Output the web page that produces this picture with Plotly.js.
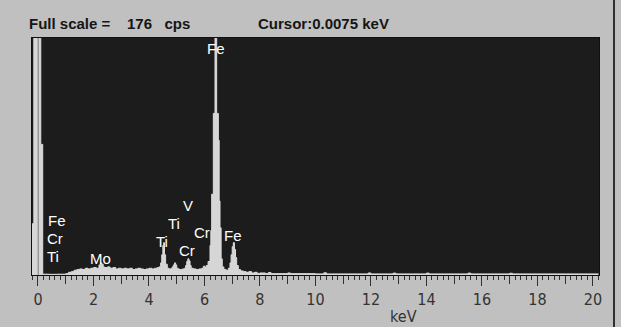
<!DOCTYPE html>
<html>
<head>
<meta charset="utf-8">
<script src="https://cdn.plot.ly/plotly-3.0.1.min.js"></script>
<style>html,body{margin:0;padding:0;background:#c0c0c0;}#chart{width:621px;height:327px;}</style>
</head>
<body>
<div id="chart"></div>
<script>
// Spectrum (step histogram): energy in keV, counts in cps
const energyKeV = [
  -0.22, -0.15, 0.10, 0.17, 0.4, 0.7, 1.0, 1.1, 1.2, 1.3, 1.4, 1.5, 1.6, 1.7, 1.8, 1.9,
  2.0, 2.1, 2.2, 2.25, 2.3, 2.35, 2.4, 2.5, 2.6, 2.7, 2.8, 2.9, 3.0, 3.1, 3.2, 3.3,
  3.4, 3.5, 3.6, 3.7, 3.8, 3.9, 4.0, 4.1, 4.2, 4.3, 4.36, 4.42, 4.46, 4.50, 4.53, 4.56,
  4.60, 4.66, 4.72, 4.80, 4.84, 4.88, 4.92, 4.96, 5.00, 5.05, 5.10, 5.20, 5.28, 5.32,
  5.36, 5.40, 5.44, 5.48, 5.52, 5.60, 5.70, 5.80, 5.90, 5.96, 6.02, 6.06, 6.10, 6.13,
  6.20, 6.23, 6.26, 6.32, 6.38, 6.44, 6.50, 6.53, 6.56, 6.60, 6.64, 6.70, 6.78, 6.86,
  6.92, 6.96, 7.00, 7.04, 7.08, 7.12, 7.16, 7.22, 7.30, 7.40, 7.50, 7.60, 7.70, 7.80,
  7.90, 8.00, 8.20, 8.30, 8.40, 8.80, 9.00, 9.10, 10.0, 10.3, 10.4, 11.0, 11.9, 12.0,
  12.8, 12.9, 13.5, 14.0, 14.1, 15.0, 15.5, 15.6, 16.2, 17.0, 17.1, 18.0, 19.0, 20.2
];
const countsCps = [
  38, 400, 97, 0.6, 0.5, 0.6, 1.0, 2, 2.5, 3.5, 4, 4.5, 4, 5, 4.5, 5,
  5.5, 5, 7.5, 9, 8, 6, 5.5, 6, 5, 5.5, 4.5, 5, 4.5, 5, 4.5, 5,
  4, 4.5, 5, 4.5, 4, 4.5, 5, 4.5, 5, 5.5, 6, 9, 15, 22, 24, 15,
  8, 5, 4.5, 5, 6, 7.5, 9, 7.5, 5, 4.5, 4, 4.5, 5, 7,
  10, 12, 10.5, 7, 5, 4.5, 4, 4.5, 5, 6.5, 5.5, 7, 7, 10,
  22, 33, 60, 120, 176, 120, 100, 55, 35, 12, 6, 4, 3.5, 5,
  9, 15, 21, 24, 19, 13, 7, 4, 3, 2.5, 2, 2.5, 1.5, 2,
  1.2, 1.5, 1, 1.8, 1, 1, 1.5, 1, 0.8, 1.6, 0.8, 0.8, 1.5, 0.8,
  1.4, 0.8, 0.8, 1.4, 0.8, 0.8, 1.4, 0.8, 0.8, 1.3, 0.8, 0.8, 0.8, 0.8
];

// Peak labels
const labelText   = ["Fe", "Fe", "Cr", "Ti", "Mo", "Ti", "Ti", "V", "Cr", "Cr", "Fe"];
const labelEnergy = [6.40, 0.30, 0.24, 0.24, 2.24, 4.47, 4.90, 5.39, 5.38, 5.91, 7.03];
const labelCounts = [168.5, 40.2, 27.2, 13.8, 12.5, 24.9, 38.3, 51.5, 18.2, 31.2, 29.0];
const labelAnchor = ["center", "left", "left", "left", "center", "center", "center", "center", "center", "center", "center"];

const fullScaleCps = 176;
const cursorKeV = 0.0075;
const xRange = [-0.216, 20.22];
const majorTicks = [0, 2, 4, 6, 8, 10, 12, 14, 16, 18, 20];
const headerLeft = "<b>Full scale =\u00a0\u00a0\u00a0\u00a0" + fullScaleCps + "\u00a0\u00a0\u00a0cps</b>";
const headerRight = "<b>Cursor:" + cursorKeV + " keV</b>";

const W = 621, H = 327;
const margin = {l: 32, r: 22, t: 38, b: 52};
const plotW = W - margin.l - margin.r, plotH = H - margin.t - margin.b;
const px2paperX = px => (px - margin.l) / plotW;
const px2paperY = py => (H - margin.b - py) / plotH;

const spectrum = {
  x: energyKeV, y: countsCps, type: "scatter", mode: "lines",
  line: {shape: "hv", color: "#dcdcdc", width: 1},
  fill: "tozeroy", fillcolor: "#d6d6d6", hoverinfo: "skip"
};
const dummy = {x: [], y: [], xaxis: "x2", yaxis: "y", type: "scatter", mode: "lines", showlegend: false};

const lblFont = {family: "Liberation Sans, Arial, sans-serif", size: 15, color: "#ffffff"};
const annotations = labelText.map((t, i) => ({
  x: labelEnergy[i], y: labelCounts[i], xref: "x", yref: "y", text: t,
  showarrow: false, xanchor: labelAnchor[i], yanchor: "middle", font: lblFont
}));
const hdrFont = {family: "Liberation Sans, Arial, sans-serif", size: 15, color: "#151515"};
annotations.push({x: px2paperX(27), y: px2paperY(23), xref: "paper", yref: "paper", text: headerLeft,
  showarrow: false, xanchor: "left", yanchor: "middle", font: hdrFont});
annotations.push({x: px2paperX(256), y: px2paperY(23), xref: "paper", yref: "paper", text: headerRight,
  showarrow: false, xanchor: "left", yanchor: "middle", font: hdrFont});
annotations.push({x: px2paperX(403), y: px2paperY(316), xref: "paper", yref: "paper", text: "keV",
  showarrow: false, xanchor: "center", yanchor: "middle",
  font: {family: "Liberation Sans Narrow, DejaVu Sans Condensed, sans-serif", size: 16, color: "#333333"}});

const layout = {
  width: W, height: H, margin: margin, showlegend: false,
  paper_bgcolor: "#c0c0c0", plot_bgcolor: "#1c1c1c",
  xaxis: {
    range: xRange, showgrid: false, zeroline: false,
    tickmode: "array", tickvals: majorTicks, ticks: "outside", ticklen: 10, tickwidth: 1, tickcolor: "#303030",
    tickfont: {family: "Liberation Sans Narrow, DejaVu Sans Condensed, sans-serif", size: 16, color: "#333333"},
    showline: true, linecolor: "#101010", linewidth: 1, mirror: true,
    minor: {dtick: 0.2, tick0: 0, ticks: "outside", ticklen: 4, tickcolor: "#303030", tickwidth: 1, showgrid: false}
  },
  xaxis2: {
    range: xRange, overlaying: "x", anchor: "y", side: "bottom", showgrid: false, zeroline: false,
    dtick: 1, tick0: 0, ticks: "outside", ticklen: 8, tickwidth: 1, tickcolor: "#303030", showticklabels: false,
    showline: false
  },
  yaxis: {
    range: [0, fullScaleCps], showgrid: false, zeroline: false, showticklabels: false, ticks: "",
    showline: true, linecolor: "#101010", linewidth: 1, mirror: true
  },
  shapes: [
    {type: "line", xref: "x", yref: "paper", x0: cursorKeV, x1: cursorKeV, y0: 0, y1: 1,
     line: {color: "#7a7a7a", width: 1}},
    {type: "line", xref: "paper", yref: "paper", x0: px2paperX(614), x1: px2paperX(614),
     y0: px2paperY(H), y1: px2paperY(0), line: {color: "#303030", width: 2}}
  ],
  annotations: annotations
};

Plotly.newPlot("chart", [spectrum, dummy], layout, {displayModeBar: false, staticPlot: true});
</script>
</body>
</html>
